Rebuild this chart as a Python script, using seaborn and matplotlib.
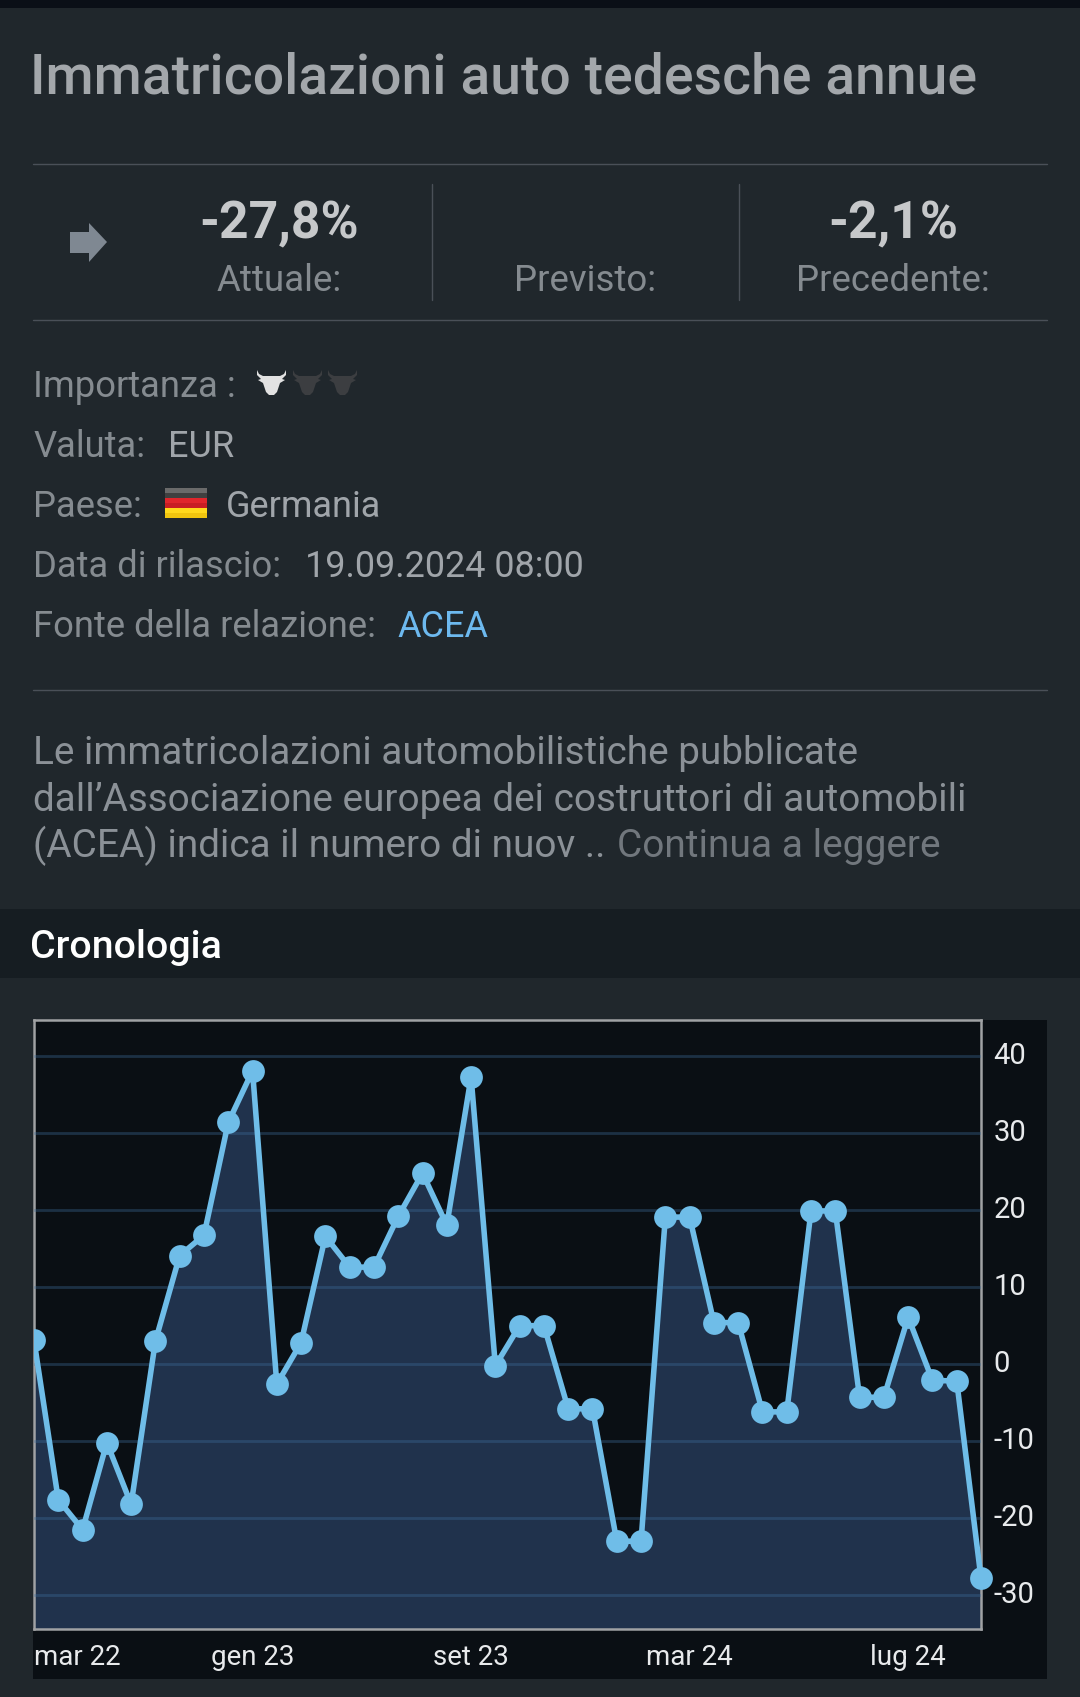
"""
Immatricolazioni auto tedesche - economic calendar card with history chart
"""

import matplotlib
matplotlib.use('Agg')
import matplotlib.pyplot as plt
from matplotlib.patches import Polygon, Rectangle
from matplotlib.transforms import ScaledTranslation
import seaborn as sns

# Data
history_values = [3.1, -17.6, -21.5, -10.2, -18.2, 3.0, 14.1, 16.75, 31.4, 38.1,
                  -2.6, 2.8, 16.6, 12.6, 12.6, 19.2, 24.8, 18.05, 37.3, -0.2,
                  5.0, 5.0, -5.8, -5.8, -23.0, -23.0, 19.1, 19.1, 5.4, 5.4,
                  -6.2, -6.2, 19.9, 19.9, -4.3, -4.3, 6.1, -2.1, -2.2, -27.8]
x_tick_positions = [0, 9, 18, 27, 36]
x_tick_labels = ['mar 22', 'gen 23', 'set 23', 'mar 24', 'lug 24']
y_tick_values = [40, 30, 20, 10, 0, -10, -20, -30]

title_text = 'Immatricolazioni auto tedesche annue'
stat_values = ['-27,8%', '', '-2,1%']
stat_labels = ['Attuale:', 'Previsto:', 'Precedente:']
description_lines = ['Le immatricolazioni automobilistiche pubblicate',
                     'dall’Associazione europea dei costruttori di automobili',
                     '(ACEA) indica il numero di nuov .. ']

# Colors
CARD = '#20272c'
TOP_BAR = '#0a0f17'
SECTION = '#161d22'
PANEL = '#0a0f14'
RULE = '#4a5058'
LABEL = '#858b90'
VALUE = '#a0a5aa'
LINE = '#6fbde8'
FILL = '#20324c'

W, H = 1080, 1697

sns.set_theme(style='white')
plt.rcParams['font.family'] = ['Roboto', 'DejaVu Sans']

fig = plt.figure(figsize=(W / 100, H / 100), dpi=100, facecolor=CARD)

# Card layer in pixel coordinates
ui = fig.add_axes([0, 0, 1, 1])
ui.set_xlim(0, W)
ui.set_ylim(H, 0)
ui.axis('off')

ui.add_patch(Rectangle((0, 0), W, 8, color=TOP_BAR, lw=0))
ui.add_patch(Rectangle((0, 909), W, 69, color=SECTION, lw=0))
ui.add_patch(Rectangle((33, 1020), 1014, 659, color=PANEL, lw=0))

ui.text(30, 94, title_text, fontsize=39.8, fontweight='medium', color='#a3a7ab', va='baseline')

for y in [164, 320, 690]:
    ui.plot([33, 1047], [y, y], color=RULE, lw=1.0)
for x in [432, 739]:
    ui.plot([x, x], [184, 300], color=RULE, lw=1.0)

# trend arrow
ui.add_patch(Polygon([(70, 232), (89, 232), (89, 223), (107, 242), (89, 262), (89, 253), (70, 253)],
                     color='#7f8892', lw=0))

stat_centers = [279, 585, 893]
for cx, val, lab in zip(stat_centers, stat_values, stat_labels):
    if val:
        ui.text(cx, 238, val, fontsize=37.2, fontweight='bold', color='#c6c8ca', ha='center', va='baseline')
    ui.text(cx, 291, lab, fontsize=26.4, color=LABEL, ha='center', va='baseline')

# detail rows
rows = [('Importanza :', 397, None, None, None),
        ('Valuta:', 457, 'EUR', 168, VALUE),
        ('Paese:', 517, 'Germania', 226, VALUE),
        ('Data di rilascio:', 577, '19.09.2024 08:00', 305, VALUE),
        ('Fonte della relazione:', 637, 'ACEA', 397, '#6db9ef')]
for label, base, val, vx, col in rows:
    ui.text(33, base, label, fontsize=26.2, color=LABEL, va='baseline')
    if val:
        ui.text(vx, base, val, fontsize=25.9, color=col, va='baseline')


def bull(x0, color):
    # head and horns of the importance icon
    shape = [(0, 0), (2, 4), (6, 6), (23, 6), (27, 4), (29, 0), (29, 5), (25, 9), (28, 10),
             (23, 13), (20, 22), (17, 25), (12, 25), (9, 22), (6, 13), (1, 10), (4, 9), (0, 5)]
    ui.add_patch(Polygon([(x0 + a, 370 + b) for a, b in shape], color=color, lw=0))


bull(257, '#e2e2e2')
bull(293, '#3c3e41')
bull(328, '#3c3e41')

# flag
flag_bands = [(488, 5, '#6a6a6a'), (493, 5, '#404040'), (498, 5, '#e0262c'), (503, 5, '#c81e24'),
              (508, 5, '#ffd81c'), (513, 5, '#f0c40e')]
for top, height, col in flag_bands:
    ui.add_patch(Rectangle((165, top), 42, height, color=col, lw=0))

# description
for base, line in zip([764, 811, 857], description_lines):
    ui.text(33, base, line, fontsize=27.9, color='#8b9197', va='baseline')
ui.text(617, 857, 'Continua a leggere', fontsize=28, color='#71777d', va='baseline')

ui.text(30, 958, 'Cronologia', fontsize=28.3, fontweight='medium', color='#ffffff', va='baseline')

# History chart
ax = fig.add_axes([34 / W, 1 - 1629 / H, 947 / W, 609 / H])
ax.set_facecolor('none')
x_index = list(range(len(history_values)))
y_min, y_max = -34.4, 44.7
ax.fill_between(x_index, history_values, y_min, color=FILL, lw=0, zorder=1)
sns.lineplot(x=x_index, y=history_values, ax=ax, color=LINE, linewidth=4, marker='o',
             markersize=16.4, markeredgewidth=0, zorder=4, errorbar=None)
clip = Rectangle((0, 0), 1.1, 1, transform=ax.transAxes)
for line in ax.get_lines():
    line.set_clip_path(clip)

ax.set_xlim(0, len(history_values) - 1)
ax.set_ylim(y_min, y_max)
ax.set_xlabel('')
ax.set_ylabel('')
ax.set_axisbelow(False)
ax.yaxis.grid(True, color='#3f6f9f', alpha=0.35, lw=2)
ax.xaxis.grid(False)
ax.set_yticks(y_tick_values, [str(v) for v in y_tick_values])
ax.yaxis.tick_right()
ax.set_xticks(x_tick_positions, x_tick_labels)
ax.tick_params(axis='y', length=0, pad=9, labelsize=21, labelcolor='#e8eaec')
ax.tick_params(axis='x', length=0, pad=11, labelsize=20, labelcolor='#e8eaec')
ax.get_xticklabels()[0].set_ha('left')
nudge = ScaledTranslation(0, 3 / 100, fig.dpi_scale_trans)
for lab in ax.get_yticklabels():
    lab.set_transform(lab.get_transform() + nudge)
for spine in ax.spines.values():
    spine.set_visible(True)
    spine.set_color('#a0a2a4')
    spine.set_linewidth(1.8)

fig.savefig('out.png', dpi=100, facecolor=CARD)
